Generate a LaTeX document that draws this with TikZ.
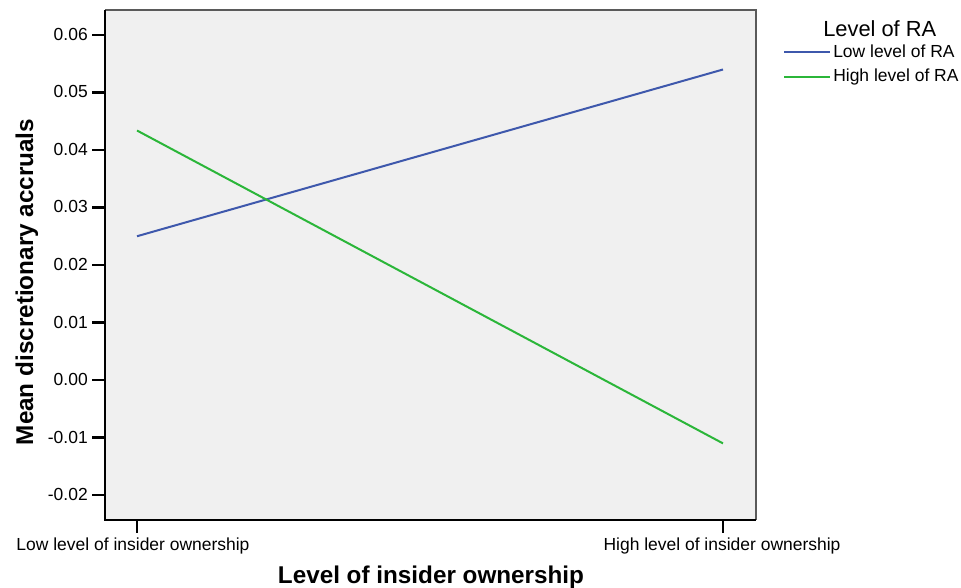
\documentclass[tikz,border=0pt]{standalone}
\usepackage{fontspec}
\setmainfont{Liberation Sans}
\definecolor{lowRA}{RGB}{62,88,172}
\definecolor{highRA}{RGB}{43,182,57}
\definecolor{plotbg}{RGB}{240,240,240}
\definecolor{framegray}{RGB}{90,90,90}
\begin{document}
\begin{tikzpicture}[x=0.75pt,y=-0.75pt,
  ticklbl/.style={font=\fontsize{13.1}{15}\selectfont, inner sep=0pt},
  axtitle/.style={font=\fontsize{18.2}{21}\bfseries\selectfont, inner sep=0pt},
  legtitle/.style={font=\fontsize{16.4}{19}\selectfont, inner sep=0pt},
  tickmark/.style={line width=1.6pt, black},
  series/.style={line width=1.5pt}]
\useasboundingbox (0,0) rectangle (961,588);
% plot area
\fill[plotbg] (105,10) rectangle (756,520);
\draw[framegray, line width=1.3pt] (105,10) -- (756,10) -- (756,520);
\draw[black, line width=1.4pt] (105,10) -- (105,520) -- (756,520);
% y axis ticks and labels (0.01 = 57.5 px)
\foreach \v/\t [count=\i from 0] in {0.06/0.06,0.05/0.05,0.04/0.04,0.03/0.03,0.02/0.02,0.01/0.01,0.00/0.00,-0.01/-0.01,-0.02/-0.02}{
  \pgfmathsetmacro{\yy}{35+57.5*\i}
  \draw[tickmark] (92,\yy) -- (105,\yy);
  \node[ticklbl, anchor=base east] (ytick\i) at (88,\yy+5.5) {\t};
}
% x axis ticks and labels
\draw[tickmark] (137,520) -- (137,533);
\draw[tickmark] (723,520) -- (723,533);
\node[ticklbl, anchor=base] (xlow) at (133,550) {Low level of insider ownership};
\node[ticklbl, anchor=base] (xhigh) at (722,550) {High level of insider ownership};
% axis titles
\node[axtitle, anchor=base] (xtitle) at (431,583) {Level of insider ownership};
\node[axtitle, anchor=base, rotate=90] (ytitle) at (33,282) {Mean discretionary accruals};
% data points
\coordinate (lowA) at (137,236.25);
\coordinate (lowB) at (723,69.5);
\coordinate (highA) at (137,130.5);
\coordinate (highB) at (723,443.4);
\draw[series, lowRA] (lowA) -- (lowB);
\draw[series, highRA] (highA) -- (highB);
% legend
\node[legtitle, anchor=base west] (legT) at (823,37) {Level of RA};
\coordinate (leg1a) at (784,52.5);
\coordinate (leg1b) at (830,52.5);
\coordinate (leg2a) at (784,77);
\coordinate (leg2b) at (830,77);
\draw[series, lowRA] (leg1a) -- (leg1b);
\draw[series, highRA] (leg2a) -- (leg2b);
\node[ticklbl, anchor=base west] (leg1) at (833,57.5) {Low level of RA};
\node[ticklbl, anchor=base west] (leg2) at (833,81.5) {High level of RA};
\end{tikzpicture}
\end{document}
